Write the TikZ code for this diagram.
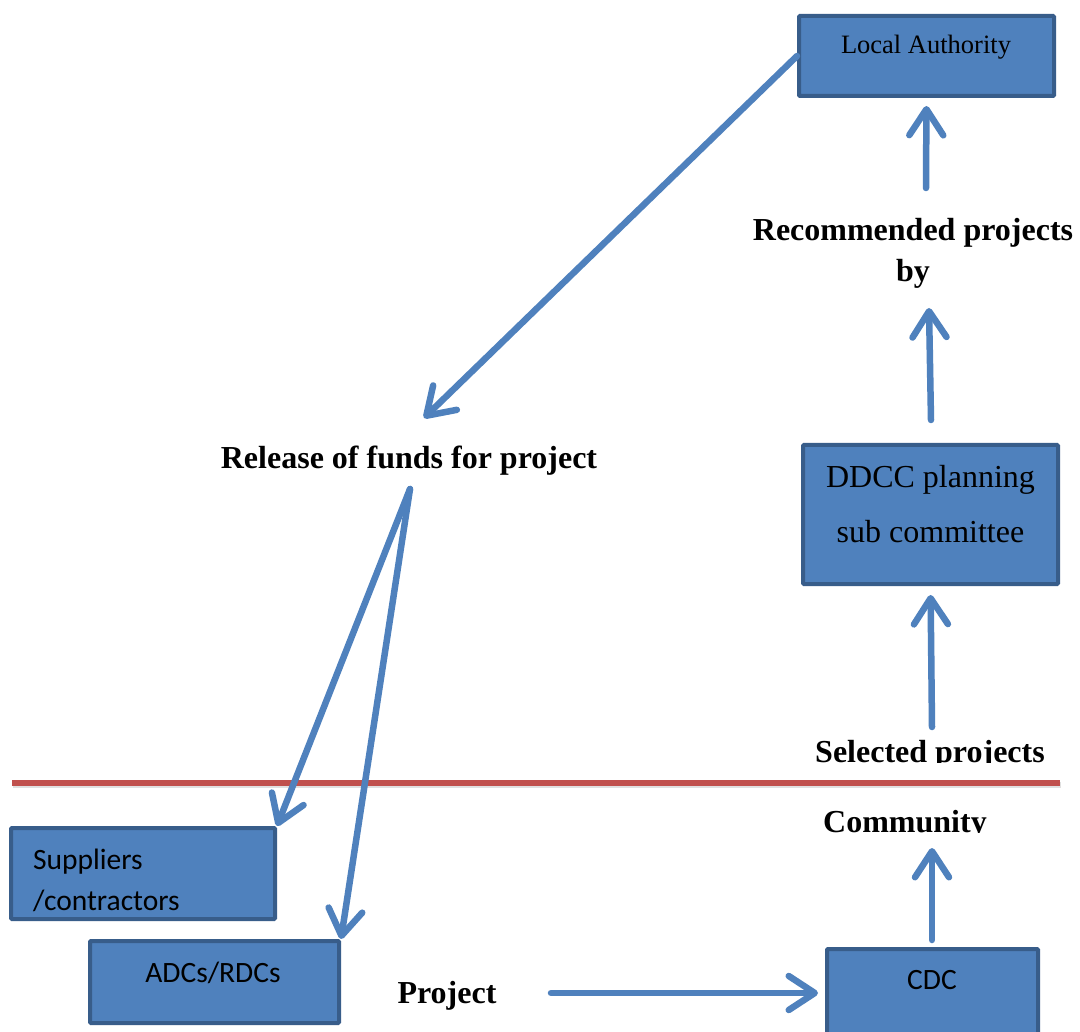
\documentclass[tikz,border=0pt]{standalone}
\usepackage{fontspec}
\setmainfont{Liberation Serif}
\newfontfamily\calib{Carlito}
\usetikzlibrary{arrows.meta}
\definecolor{boxblue}{HTML}{4F81BD}
\definecolor{boxedge}{HTML}{385D8A}
\definecolor{linered}{HTML}{C0504D}
\begin{document}
\begin{tikzpicture}[x=1pt,y=-1pt,
  box/.style={draw=boxedge, fill=boxblue, line width=4pt, rounded corners=1pt, inner sep=0pt},
  lbl/.style={font=\fontsize{32}{41}\selectfont\bfseries, inner sep=0pt, align=center},
  serift/.style={inner sep=0pt, anchor=base},
  calt/.style={font=\calib\fontsize{29.5}{41}\selectfont, inner sep=0pt},
  conn/.style={draw=boxblue, line width=6.5pt, line cap=round, -{Straight Barb[length=26pt,width=34pt,round]}},
]
\useasboundingbox (0,0) rectangle (1080,1032);
\fill[white] (0,0) rectangle (1080,1032);

% boxes
\node[box, minimum width=255pt, minimum height=80pt] (la) at (926.5,56) {};
\node[serift, font=\fontsize{26.5}{30}\selectfont] (lat) at (926,54) {Local Authority};

\node[box, minimum width=255pt, minimum height=139pt] (ddcc) at (930.5,514.5) {};
\node[inner sep=0pt, font=\fontsize{32}{55}\selectfont, align=center] (ddcct) at (930.5,504) {DDCC planning\\sub committee};

\node[box, minimum width=264pt, minimum height=91pt] (sup) at (143,873.5) {};
\node[calt, anchor=west, align=left] (supt) at (33,880) {Suppliers\\/contractors};

\node[box, minimum width=249pt, minimum height=82pt] (adc) at (214.5,982) {};
\node[calt, anchor=base] (adct) at (213,982) {ADCs/RDCs};

\node[box, minimum width=211pt, minimum height=94pt] (cdc) at (932.5,996) {};
\node[calt, anchor=base] (cdct) at (932,989) {CDC};

% labels
\node[lbl] (rec) at (913,253) {Recommended projects\\by};
\node[lbl, anchor=base] (rel) at (409,468) {Release of funds for project};
\begin{scope}
  \clip (700,700) rectangle (1080,762.5);
  \node[lbl, anchor=base] (sel) at (930,762) {Selected projects};
\end{scope}
\begin{scope}
  \clip (700,790) rectangle (1080,832.5);
  \node[lbl, anchor=base] (com) at (905,832) {Community};
\end{scope}
\node[lbl, anchor=base] (proj) at (447,1003) {Project};

% divider
\draw[black!12, line width=6pt] (13,785) -- (1061,785);
\draw[linered, line width=6pt] (12,783) -- (1060,783);

% free ends
\coordinate (relin) at (424,418);
\coordinate (relout) at (410,489);
\coordinate (recout) at (926,188);
\coordinate (recin) at (929,308);
\coordinate (ddout) at (931,420);
\coordinate (selout) at (932,727);
\coordinate (cdcout) at (932,940);
\coordinate (comin) at (932,848);
\coordinate (projout) at (551,993);
\coordinate (cdcin) at (818,993);

% connectors
\draw[conn] (la.west) -- (relin);
\draw[conn] (relout) -- (sup.north east);
\draw[conn] (relout) -- (adc.north east);
\draw[conn, shorten >=8pt] (recout) -- (la.south);
\draw[conn] (ddout) -- (recin);
\draw[conn, shorten >=9pt] (selout) -- (ddcc.south);
\draw[conn] (cdcout) -- (comin);
\draw[conn] (projout) -- (cdcin);
\end{tikzpicture}
\end{document}
